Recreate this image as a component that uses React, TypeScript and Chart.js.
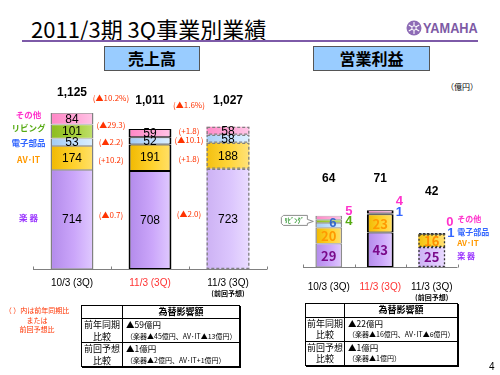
import React, { useEffect, useRef } from "react";
import { Chart, registerables } from "chart.js";

Chart.register(...registerables);

// ---------------- data ----------------
const periods = ["10/3 (3Q)", "11/3 (3Q)", "11/3 (3Q)"];
const periodNotes = ["", "", "(前回予想)"];
const segmentNames = ["楽 器", "AV･IT", "電子部品", "リビング", "その他"];

// 売上高（億円）
const salesInstruments = [714, 708, 723];
const salesAvIt = [174, 191, 188];
const salesElectronic = [53, 52, 58];
const salesLiving = [101, 0, 0];
const salesOther = [84, 59, 58];
const salesTotals = ["1,125", "1,011", "1,027"];

// 前年同期比 / 前回予想比
const salesChangeTotal = ["(▲10.2%)", "(▲1.6%)"];
const salesChangeInstruments = ["(▲0.7)", "(▲2.0)"];
const salesChangeAvIt = ["(+10.2)", "(+1.8)"];
const salesChangeElectronic = ["(▲2.2)", "(▲10.1)"];
const salesChangeOther = ["(▲29.3)", "(+1.8)"];

// 営業利益（億円）
const profitInstruments = [29, 43, 25];
const profitAvIt = [20, 23, 16];
const profitElectronic = [6, 1, 1];
const profitLiving = [4, 0, 0];
const profitOther = [5, 4, 0];
const profitTotals = ["64", "71", "42"];

const salesSeries = [salesInstruments, salesAvIt, salesElectronic, salesLiving, salesOther];
const profitSeries = [profitInstruments, profitAvIt, profitElectronic, profitLiving, profitOther];
const salesChanges = [salesChangeInstruments, salesChangeAvIt, salesChangeElectronic, null, salesChangeOther];

// ---------------- styles ----------------
const JP = '"Noto Sans CJK JP", "Noto Sans", sans-serif';
const LAT = '"Liberation Sans", Arial, sans-serif';
const nameColors = ["#9933ff", "#ff9900", "#3366ff", "#55aa11", "#ff33cc"];
const changeRed = "#ff3300";

const fills = [
  { n: ["#b28aea", "#cba6fa", "#e0caff"], f: ["#cdb2f4", "#dbc5fd", "#eadcff"] },
  { n: ["#f0b800", "#ffd22e", "#ffe06a"], f: ["#f3c010", "#ffd63c", "#ffe27a"] },
  { n: ["#a2caf3", "#c2e0ff", "#dcefff"], f: ["#a8cef5", "#c6e2ff", "#def0ff"] },
  { n: ["#8cbc1c", "#a6cf3c", "#c0e06c"], f: ["#8cbc1c", "#a6cf3c", "#c0e06c"] },
  { n: ["#ff86c6", "#ffa6d6", "#ffc4e6"], f: ["#ff8cc8", "#ffaad8", "#ffc8e8"] },
];

const salesTotalDy = [-20, -28, -26];
const profitTotalDy = [-37, -32, -42];
const salesChangeDy = [-5, 2.5, 0, 0, -1];
const salesNameDy = [-1.6, 2, 0, -4, -4];

function barFill(ctx: any, d: number, pct: number) {
  const chart = ctx.chart;
  const xs = chart.scales && chart.scales.x;
  const i = ctx.dataIndex;
  const cols = i === 2 ? fills[d].f : fills[d].n;
  if (!xs || !chart.chartArea || i === undefined) return cols[1];
  const cx = xs.getPixelForValue(i);
  const w = ((xs.right - xs.left) / chart.data.labels.length) * pct;
  const g = chart.ctx.createLinearGradient(cx - w / 2, 0, cx + w / 2, 0);
  g.addColorStop(0, cols[0]);
  g.addColorStop(0.55, cols[1]);
  g.addColorStop(1, cols[2]);
  return g;
}

function seg(chart: any, d: number, i: number) {
  const el: any = chart.getDatasetMeta(d).data[i];
  const top = Math.min(el.y, el.base);
  const bottom = Math.max(el.y, el.base);
  return { x: el.x, top, bottom, w: el.width, mid: (top + bottom) / 2 };
}

function txt(c: CanvasRenderingContext2D, s: string, x: number, y: number, font: string, color: string, align: CanvasTextAlign = "center") {
  c.save();
  c.font = font;
  c.fillStyle = color;
  c.textAlign = align;
  c.textBaseline = "middle";
  c.fillText(s, x, y);
  c.restore();
}

function drawAxis(chart: any, color: string) {
  const xs = chart.scales.x;
  const ys = chart.scales.y;
  const y0 = Math.round(ys.getPixelForValue(0)) + 0.5;
  const c = chart.ctx;
  const n = chart.data.labels.length;
  const step = (xs.right - xs.left) / n;
  c.save();
  c.strokeStyle = color;
  c.lineWidth = 1;
  c.beginPath();
  c.moveTo(xs.left, y0);
  c.lineTo(xs.right, y0);
  for (let k = 0; k <= n; k++) {
    const x = Math.round(xs.left + k * step) + 0.5;
    c.moveTo(x, y0);
    c.lineTo(x, y0 - 3);
  }
  c.stroke();
  c.restore();
}

function drawForecastOutline(chart: any, color: string, dash: number[]) {
  const c = chart.ctx;
  const n = chart.data.datasets.length;
  for (let d = 0; d < n; d++) {
    const s = seg(chart, d, 2);
    if (s.bottom - s.top < 0.5) continue;
    c.save();
    c.setLineDash(dash);
    c.strokeStyle = color;
    c.lineWidth = 1.3;
    c.strokeRect(s.x - s.w / 2 + 0.65, s.top + 0.65, s.w - 1.3, s.bottom - s.top - 1.3);
    c.restore();
  }
}

function drawCategories(chart: any, dy: number, noteDy: number) {
  const c = chart.ctx;
  const y0 = chart.scales.y.getPixelForValue(0);
  periods.forEach((p, i) => {
    const x = chart.scales.x.getPixelForValue(i);
    txt(c, p, x, y0 + dy, `10px ${LAT}`, i === 1 ? "#ff3333" : "#000");
    if (periodNotes[i]) txt(c, periodNotes[i], x, y0 + noteDy, `bold 7px ${JP}`, "#000");
  });
}

const salesPlugin = {
  id: "salesDecor",
  afterDatasetsDraw(chart: any) {
    const c = chart.ctx;
    const n = salesSeries.length;
    drawForecastOutline(chart, "#808080", [3, 2]);
    drawAxis(chart, "#808080");
    // segment values
    for (let d = 0; d < n; d++) {
      for (let i = 0; i < periods.length; i++) {
        const v = salesSeries[d][i];
        if (!v) continue;
        const s = seg(chart, d, i);
        txt(c, String(v), s.x, s.mid + 0.5, `12px ${LAT}`, "#000");
      }
    }
    // totals
    for (let i = 0; i < periods.length; i++) {
      const s = seg(chart, n - 1, i);
      txt(c, salesTotals[i], s.x, s.top + salesTotalDy[i], `bold 12px ${LAT}`, "#000");
    }
    // changes
    for (let k = 0; k < periods.length - 1; k++) {
      const ta = seg(chart, n - 1, k);
      const tb = seg(chart, n - 1, k + 1);
      const x = (ta.x + tb.x) / 2;
      txt(c, salesChangeTotal[k], x, (ta.top + tb.top) / 2 - 23, `8px ${JP}`, changeRed);
      for (let d = 0; d < n; d++) {
        const arr = salesChanges[d];
        if (!arr) continue;
        const a = seg(chart, d, k);
        const b = seg(chart, d, k + 1);
        txt(c, arr[k], x, (a.mid + b.mid) / 2 + salesChangeDy[d], `8px ${JP}`, changeRed);
      }
    }
    // segment names
    for (let d = 0; d < n; d++) {
      const s = seg(chart, d, 0);
      txt(c, segmentNames[d], s.x - s.w / 2 - 22, s.mid + salesNameDy[d], `bold 8.5px ${JP}`, nameColors[d]);
    }
    drawCategories(chart, 14.5, 24.5);
  },
};

const profitValueColors = [
  ["#7a0a8a", "#7a0a8a", "#7a0a8a"],
  ["#ff9900", "#ff9900", "#ff8c00"],
];
const profitOuter = [
  { d: 4, i: 0, mode: "r", dx: 3, dy: -6 },
  { d: 3, i: 0, mode: "r", dx: 3, dy: 0 },
  { d: 2, i: 0, mode: "c", dx: 4, dy: -2 },
  { d: 4, i: 1, mode: "r", dx: 2, dy: -10 },
  { d: 2, i: 1, mode: "r", dx: 2, dy: -1 },
  { d: 4, i: 2, mode: "r", dx: 1, dy: -10.5 },
  { d: 2, i: 2, mode: "r", dx: 2, dy: 0 },
];
const profitNameDy = [-1, 2, -2, 0, -14];

const profitPlugin = {
  id: "profitDecor",
  afterDatasetsDraw(chart: any) {
    const c = chart.ctx;
    const n = profitSeries.length;
    drawForecastOutline(chart, "#333333", [2, 2]);
    drawAxis(chart, "#808080");
    for (let d = 0; d < 2; d++) {
      for (let i = 0; i < periods.length; i++) {
        const s = seg(chart, d, i);
        txt(c, String(profitSeries[d][i]), s.x, s.mid + 0.5, `bold 13px ${JP}`, profitValueColors[d][i]);
      }
    }
    profitOuter.forEach((o) => {
      const s = seg(chart, o.d, o.i);
      const v = String(profitSeries[o.d][o.i]);
      if (o.mode === "r") txt(c, v, s.x + s.w / 2 + o.dx, s.mid + o.dy, `bold 13px ${LAT}`, nameColors[o.d], "left");
      else txt(c, v, s.x + o.dx, s.mid + o.dy, `bold 13px ${LAT}`, "#3366cc");
    });
    for (let i = 0; i < periods.length; i++) {
      const s = seg(chart, n - 1, i);
      txt(c, profitTotals[i], s.x, s.top + profitTotalDy[i], `bold 12px ${LAT}`, "#000");
    }
    // callout for リビング
    const lv = seg(chart, 3, 0);
    const bx = lv.x - lv.w / 2 - 34;
    const by = lv.mid - 6;
    c.save();
    c.fillStyle = "#fff";
    c.strokeStyle = "#8c8c8c";
    c.lineWidth = 1;
    c.beginPath();
    c.moveTo(bx + 2, by);
    c.lineTo(bx + 26, by);
    c.lineTo(bx + 26, by + 4);
    c.lineTo(bx + 32, by + 6);
    c.lineTo(bx + 26, by + 8);
    c.lineTo(bx + 26, by + 10);
    c.lineTo(bx + 2, by + 10);
    c.lineTo(bx, by + 8);
    c.lineTo(bx, by + 2);
    c.closePath();
    c.fill();
    c.stroke();
    c.restore();
    txt(c, "ﾘﾋﾞﾝｸﾞ", bx + 13, by + 5.5, `bold 6.5px ${JP}`, "#339933");
    // names right of forecast bar
    for (let d = 0; d < n; d++) {
      if (d === 3) continue;
      const s = seg(chart, d, 2);
      txt(c, segmentNames[d], s.x + s.w / 2 + 12, s.mid + profitNameDy[d], `bold 8px ${JP}`, nameColors[d], "left");
    }
    drawCategories(chart, 20.5, 30.5);
  },
};

function makeChart(canvas: HTMLCanvasElement, series: number[][], pad: any, max: number, pct: number, plugin: any, borders: any[]) {
  return new Chart(canvas, {
    type: "bar",
    data: {
      labels: periods,
      datasets: series.map((data, d) => ({
        label: segmentNames[d],
        data,
        stack: "s",
        categoryPercentage: 1,
        barPercentage: pct,
        borderSkipped: false,
        backgroundColor: (ctx: any) => barFill(ctx, d, pct),
        borderColor: (ctx: any) => borders[ctx.dataIndex].color,
        borderWidth: (ctx: any) => borders[ctx.dataIndex].width,
      })),
    },
    options: {
      responsive: false,
      animation: false,
      devicePixelRatio: 1,
      events: [],
      layout: { padding: pad },
      plugins: { legend: { display: false }, tooltip: { enabled: false } },
      scales: {
        x: { display: false, stacked: true },
        y: { display: false, stacked: true, min: 0, max },
      },
    },
    plugins: [plugin],
  } as any);
}

function Table({ left, top, w1, w2, hHead, hRow, rows }: any) {
  const cell: any = { border: "1px solid #000", padding: 0, verticalAlign: "middle", fontFamily: JP, color: "#000" };
  return (
    <table
      style={{
        position: "absolute",
        left,
        top,
        width: w1 + w2,
        borderCollapse: "collapse",
        tableLayout: "fixed",
        boxShadow: "1px 1px 0 #000",
      }}
    >
      <colgroup>
        <col style={{ width: w1 }} />
        <col style={{ width: w2 }} />
      </colgroup>
      <tbody>
        <tr style={{ height: hHead }}>
          <td style={cell}></td>
          <td style={{ ...cell, textAlign: "center", fontSize: 9, fontWeight: "bold", lineHeight: "10px" }}>為替影響額</td>
        </tr>
        {rows.map((r: any, k: number) => (
          <tr key={k} style={{ height: hRow }}>
            <td style={{ ...cell, textAlign: "center", fontSize: 9, lineHeight: "11.5px" }}>
              <div>{r[0]}</div>
              <div>比較</div>
            </td>
            <td style={{ ...cell, textAlign: "left", paddingLeft: 3, lineHeight: "11.5px" }}>
              <div style={{ fontSize: 8.5 }}>{r[1]}</div>
              <div style={{ fontSize: 7, whiteSpace: "nowrap" }}>{r[2]}</div>
            </td>
          </tr>
        ))}
      </tbody>
    </table>
  );
}

export default function App() {
  const salesRef = useRef<HTMLCanvasElement>(null);
  const profitRef = useRef<HTMLCanvasElement>(null);

  useEffect(() => {
    const salesBorders = [
      { color: "#808080", width: { left: 1.5, right: 1.5, top: 0.75, bottom: 0.75 } },
      { color: "#000000", width: { left: 2, right: 2, top: 1, bottom: 1 } },
      { color: "#808080", width: 0 },
    ];
    const profitBorders = [
      { color: "#8c8c8c", width: { left: 1.5, right: 1.5, top: 0.75, bottom: 0.75 } },
      { color: "#000000", width: { left: 2, right: 2, top: 1, bottom: 1 } },
      { color: "#333333", width: 0 },
    ];
    const a = makeChart(salesRef.current!, salesSeries, { left: 33, right: 233, top: 75, bottom: 106 }, 1400, 0.55, salesPlugin, salesBorders);
    const b = makeChart(profitRef.current!, profitSeries, { left: 303, right: 42.5, top: 187, bottom: 108 }, 100, 0.52, profitPlugin, profitBorders);
    return () => {
      a.destroy();
      b.destroy();
    };
  }, []);

  const abs: any = { position: "absolute", whiteSpace: "nowrap" };
  const box: any = {
    ...abs,
    top: 46,
    height: 25,
    background: "#99ccff",
    border: "1px solid #555",
    boxSizing: "border-box",
    fontFamily: JP,
    fontWeight: "bold",
    fontSize: 16,
    lineHeight: "23px",
    textAlign: "center",
    color: "#000",
  };

  return (
    <div style={{ position: "fixed", left: 0, top: 0, width: 500, height: 375, background: "#fff", overflow: "hidden" }}>
      <div style={{ ...abs, left: 31, top: 15, fontFamily: JP, fontSize: 22, lineHeight: "26px", color: "#000" }}>2011/3期 3Q事業別業績</div>
      <div style={{ ...abs, left: 22, top: 40, width: 456, height: 2, background: "#7d5aa8" }} />
      <svg style={{ position: "absolute", left: 406, top: 20 }} width={16} height={16}>
        <circle cx={8} cy={8} r={7.5} fill="#8e6cb6" />
        <g stroke="#fff" strokeWidth={1.1}>
          <line x1={8} y1={2} x2={8} y2={14} />
          <line x1={2.8} y1={5} x2={13.2} y2={11} />
          <line x1={2.8} y1={11} x2={13.2} y2={5} />
        </g>
        <circle cx={8} cy={8} r={2.2} fill="#8e6cb6" stroke="#fff" strokeWidth={1} />
      </svg>
      <div style={{ ...abs, left: 423, top: 19, fontFamily: LAT, fontWeight: "bold", fontSize: 15, lineHeight: "18px", color: "#7d5aa5", transform: "scaleX(0.85)", transformOrigin: "left center" }}>YAMAHA</div>
      <div style={{ ...box, left: 104, width: 96 }}>売上高</div>
      <div style={{ ...box, left: 313, width: 117 }}>営業利益</div>
      <div style={{ ...abs, left: 446, top: 81, fontFamily: JP, fontSize: 8, lineHeight: "12px", color: "#000" }}>（億円）</div>

      <canvas ref={salesRef} width={500} height={375} style={{ position: "absolute", left: 0, top: 0 }} />
      <canvas ref={profitRef} width={500} height={375} style={{ position: "absolute", left: 0, top: 0 }} />

      <div style={{ ...abs, left: 2, top: 306, width: 70, textAlign: "center", fontFamily: JP, fontSize: 7, lineHeight: "9.5px", color: changeRed }}>
        <div>（ ）内は前年同期比</div>
        <div>または</div>
        <div>前回予想比</div>
      </div>

      <Table
        left={81}
        top={305}
        w1={41}
        w2={117}
        hHead={13}
        hRow={23.5}
        rows={[
          ["前年同期", "▲59億円", "（楽器▲45億円、AV･IT▲13億円）"],
          ["前回予想", "▲1億円", "（楽器▲2億円、AV･IT+1億円）"],
        ]}
      />
      <Table
        left={305}
        top={303}
        w1={39}
        w2={113}
        hHead={13.5}
        hRow={24}
        rows={[
          ["前年同期", "▲22億円", "（楽器▲16億円、AV･IT▲6億円）"],
          ["前回予想", "▲1億円", "（楽器▲1億円）"],
        ]}
      />
      <div style={{ ...abs, left: 489, top: 361, fontFamily: LAT, fontSize: 10, lineHeight: "12px", color: "#000" }}>4</div>
    </div>
  );
}
